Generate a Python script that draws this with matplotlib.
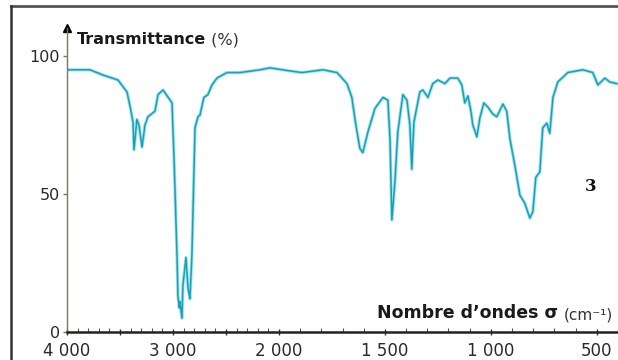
import numpy as np
import matplotlib
matplotlib.use("Agg")
from matplotlib import pyplot as plt
from matplotlib.lines import Line2D

# IR spectrum: wavenumber (cm-1) and transmittance (%)
wavenumber = [4000, 3783, 3660, 3519, 3434, 3406, 3377, 3368, 3340, 3321,
              3292, 3264, 3236, 3170, 3141, 3094, 3009, 2991, 2962, 2953,
              2940, 2934, 2915, 2906, 2877, 2858, 2840, 2821, 2792, 2764,
              2745, 2708, 2670, 2632, 2585, 2491, 2368, 2179, 2085, 1948,
              1892, 1792, 1726, 1679, 1656, 1637, 1618, 1604, 1580, 1547,
              1509, 1486, 1476, 1467, 1453, 1439, 1415, 1396, 1382, 1373,
              1363, 1335, 1321, 1297, 1274, 1250, 1217, 1193, 1156, 1137,
              1123, 1108, 1094, 1085, 1066, 1052, 1033, 1014, 991, 972,
              943, 925, 910, 887, 863, 840, 816, 802, 788, 769,
              755, 736, 722, 707, 684, 637, 566, 519, 495, 462,
              439, 406]
transmittance = [95, 95, 93.1, 91.3, 87, 82, 76, 66, 77, 75,
                 67, 75, 78, 80, 86, 87.7, 83, 64, 28, 13,
                 8.7, 11, 5, 17, 27, 16, 12, 28, 74, 78,
                 78.6, 85, 86, 89.5, 92, 94, 94, 95, 95.7, 94.6,
                 94, 95, 94, 90, 85, 75, 66.5, 65, 72.5, 81,
                 85, 84, 70, 40.6, 54, 72.5, 86, 84, 75, 59,
                 76, 87, 87.7, 85, 90, 91.3, 90, 92, 92, 89.5,
                 83, 85.5, 80, 75, 70.7, 77.5, 83, 81.5, 79, 78,
                 82.6, 80, 70, 60.5, 49.6, 46.7, 41.3, 43.5, 56, 58,
                 74, 75.7, 72, 85, 90.6, 94, 95, 94, 89.5, 92,
                 90.6, 90]

xticks = [4000, 3000, 2000, 1500, 1000, 500]
xticklabels = ["4 000", "3 000", "2 000", "1 500", "1 000", "500"]
yticks = [0, 50, 100]

# the wavenumber axis is compressed by 2 above 2000 cm-1
def forward(x):
    x = np.asarray(x, dtype=float)
    return np.where(x >= 2000, x, 2 * x - 2000)

def inverse(t):
    t = np.asarray(t, dtype=float)
    return np.where(t >= 2000, t, (t + 2000) / 2)

fig = plt.figure(figsize=(6.18, 3.6), dpi=100)
ax = fig.add_axes([67 / 618, 1 - 332 / 360, 551 / 618, (332 - 28.4) / 360])

# light halo under a darker teal line
ax.plot(wavenumber, transmittance, color="#9be6ef", lw=2.4, solid_joinstyle="round")
ax.plot(wavenumber, transmittance, color="#1f9db4", lw=1.1, solid_joinstyle="round")

ax.set_xscale("function", functions=(forward, inverse))
ax.set_xlim(4000, 400)
ax.set_ylim(0, 110)

ax.set_xticks(xticks + [3500, 2500])
ax.set_xticklabels(xticklabels + ["", ""])
ax.set_xticks(np.arange(400, 4001, 100), minor=True)
ax.tick_params(axis="x", which="major", direction="inout", length=5, width=1,
               color="#333333", labelsize=12, labelcolor="#2a2a2a", pad=4.5)
ax.tick_params(axis="x", which="minor", direction="in", length=3, width=0.8,
               color="#555555")

ax.set_yticks(yticks)
ax.set_yticklabels([str(v) for v in yticks])
ax.tick_params(axis="y", direction="out", length=3, width=1, color="#7a7856",
               labelsize=11.5, labelcolor="#2a2a2a", pad=2)

for s in ["top", "right"]:
    ax.spines[s].set_visible(False)
ax.spines["bottom"].set_color("#222222")
ax.spines["bottom"].set_linewidth(1.8)
ax.spines["left"].set_color("#7a7856")
ax.spines["left"].set_linewidth(1.0)

# arrow head on top of the y axis
ax.plot(0, 1, marker="^", color="black", markersize=6, transform=ax.transAxes,
        clip_on=False)

# axis titles
t1 = fig.text(77 / 618, 1 - 40 / 360, "Transmittance", ha="left", va="center",
              fontsize=11.5, fontweight="bold", color="#1a1a1a")
ax.annotate(" (%)", xy=(1, 0), xycoords=t1, ha="left", va="bottom",
            fontsize=11.5, color="#333333")

t2 = fig.text(613 / 618, 1 - 315 / 360, "(cm\u207b\u00b9)", ha="right", va="center",
              fontsize=11, color="#333333")
ax.annotate("Nombre d\u2019ondes \u03c3 ", xy=(0, 0), xycoords=t2, ha="right",
            va="bottom", fontsize=12.5, fontweight="bold", color="#1a1a1a")

fig.text(591 / 618, 1 - 186 / 360, "3", ha="center", va="center", fontsize=12,
         fontweight="bold", family="DejaVu Serif", color="#111111")

# frame around the figure
fig.add_artist(Line2D([11 / 618, 1], [1 - 6 / 360, 1 - 6 / 360], color="#555555", lw=2))
fig.add_artist(Line2D([11 / 618, 11 / 618], [0, 1 - 6 / 360], color="#333333", lw=1.8))

fig.savefig("out.png", dpi=100)
